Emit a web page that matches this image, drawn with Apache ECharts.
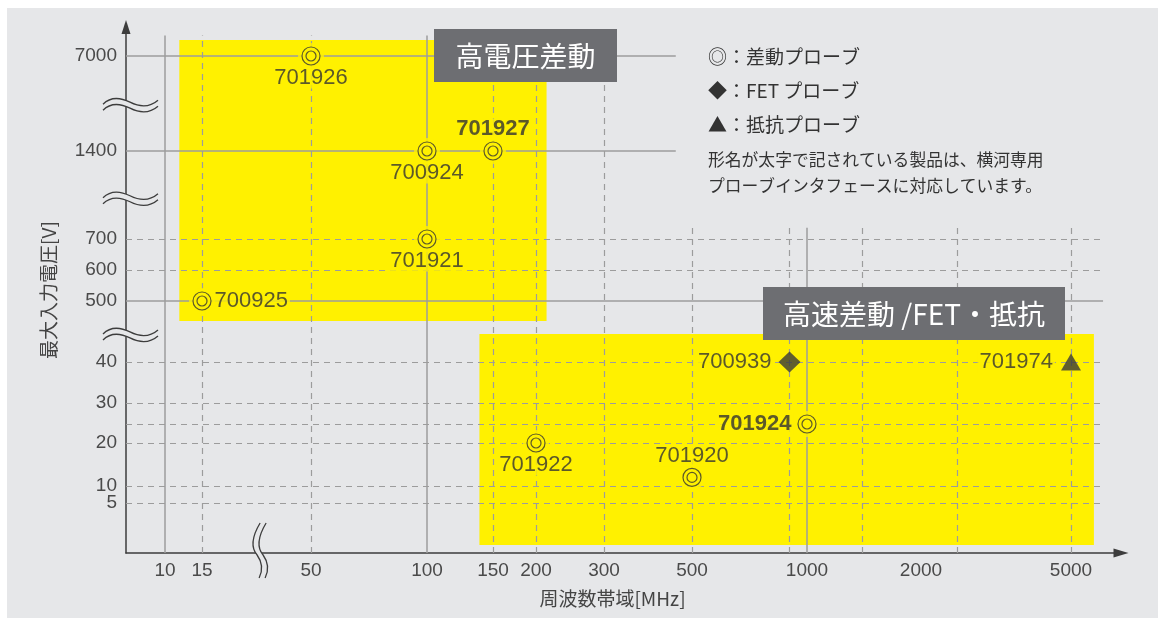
<!DOCTYPE html>
<html>
<head>
<meta charset="utf-8">
<script src="https://cdn.jsdelivr.net/npm/echarts@6/dist/echarts.min.js"></script>
<style>
html,body{margin:0;padding:0;background:#ffffff;}
#bg{position:absolute;left:7px;top:8px;right:0;bottom:0;width:1151px;height:610px;background:#E6E7E9;}
#c{position:absolute;left:0;top:0;width:1158px;height:618px;}
</style>
</head>
<body>
<div id="bg"></div>
<div id="c"></div>
<script>
// ---------------- data ----------------
const diffNames = ['701926', '700924', '701927', '701921', '700925', '701922', '701920', '701924'];
const diffFreq  = [50, 100, 150, 100, 15, 200, 500, 1000];      // MHz
const diffVolt  = [7000, 1400, 1400, 700, 500, 20, 12, 25];      // V
const diffLabelPlace = ['bottom', 'bottom', 'top', 'bottom', 'right', 'bottom', 'top', 'left'];
const fetNames = ['700939'];
const fetFreq  = [900];
const fetVolt  = [40];
const resNames = ['701974'];
const resFreq  = [5000];
const resVolt  = [40];
const boldNames = ['701927', '701924'];

const xTicks = [10, 15, 50, 100, 150, 200, 300, 500, 1000, 2000, 5000];
const yTicks = [5, 10, 20, 30, 40, 500, 600, 700, 1400, 7000];

// reference lines
const vSolidUpper  = [10, 100];
const vDashedUpper = [15, 50, 150, 200, 300];
const vSolidLower  = [1000];
const vDashedLower = [500, 900, 1400, 2500, 5000];
const hSolidUpper  = [7000, 1400];
const hSolidLower  = [500];
const hDashedLower = [700, 600, 40, 30, 25, 20, 10, 5];

// highlighted zones [fMin, vMin, fMax, vMax]
const zoneHighVoltage = [11.7, 349, 213, 7933];
const zoneHighSpeed   = [138, 0.8, 5750, 251];

// axis break locations
const yBreaks = [244, 1020, 4100];
const xBreaks = [28.5];

// ---------------- broken-axis scale ----------------
const X_ANCHOR_VAL = [6.5, 10, 15, 50, 100, 150, 200, 300, 500, 1000, 2000, 5000, 7080];
const X_ANCHOR_POS = [0, 39, 76, 185, 301, 367, 410, 478, 566, 681, 795, 945, 1002];
const Y_ANCHOR_VAL = [0, 5, 10, 20, 25, 30, 40, 500, 600, 700, 1400, 7000, 9100];
const Y_ANCHOR_POS = [0, 50, 67, 110, 129, 150, 191, 252, 283, 314, 402, 497, 533];
function pw(vals, poss, v, lg) {
  const f = lg ? Math.log10 : (a => a);
  let i = 0;
  while (i < vals.length - 2 && v > vals[i + 1]) i++;
  const t = (f(v) - f(vals[i])) / (f(vals[i + 1]) - f(vals[i]));
  return poss[i] + t * (poss[i + 1] - poss[i]);
}
const fx = v => pw(X_ANCHOR_VAL, X_ANCHOR_POS, v, true);
const fy = v => pw(Y_ANCHOR_VAL, Y_ANCHOR_POS, v, false);
const X_MIN = 6.5, V_TOP = 8200, V_LOWTOP = 790, F_UPRIGHT = 455, F_RIGHT = 6080;

const YELLOW = '#FFF100', BG = '#E6E7E9', INK = '#333333', GRID = '#9c9c9c', AXIS = '#3d3d3d';
const NUMFONT = '"Liberation Sans", Arial, sans-serif';
const JPFONT = '"Noto Sans CJK JP", sans-serif';

function tickFormatter(ticks, f) {
  return v => {
    for (const t of ticks) if (Math.abs(f(t) - v) < 0.01) return String(t);
    return '';
  };
}

const solidLines = [];
vSolidUpper.forEach(x => solidLines.push({coords: [[fx(x), fy(0)], [fx(x), fy(V_TOP)]]}));
vSolidLower.forEach(x => solidLines.push({coords: [[fx(x), fy(0)], [fx(x), fy(V_LOWTOP)]]}));
hSolidUpper.forEach(y => solidLines.push({coords: [[fx(X_MIN), fy(y)], [fx(F_UPRIGHT), fy(y)]]}));
hSolidLower.forEach(y => solidLines.push({coords: [[fx(X_MIN), fy(y)], [fx(F_RIGHT), fy(y)]]}));
const dashedLines = [];
vDashedUpper.forEach(x => dashedLines.push({coords: [[fx(x), fy(0)], [fx(x), fy(V_TOP)]]}));
vDashedLower.forEach(x => dashedLines.push({coords: [[fx(x), fy(0)], [fx(x), fy(V_LOWTOP)]]}));
hDashedLower.forEach(y => dashedLines.push({coords: [[fx(X_MIN), fy(y)], [fx(F_RIGHT), fy(y)]]}));

const zones = [zoneHighVoltage, zoneHighSpeed].map(z => [fx(z[0]), fy(z[1]), fx(z[2]), fy(z[3])]);

function labelFor(name, place) {
  const bold = boldNames.indexOf(name) >= 0;
  return {
    show: true, position: place, formatter: '{b}',
    distance: place === 'left' ? 4 : 1,
    fontSize: 22, fontFamily: NUMFONT, color: INK,
    fontWeight: bold ? 'bold' : 'normal',
    backgroundColor: YELLOW, padding: [0, 2, 0, 2]
  };
}
const diffData = diffNames.map((n, i) => ({name: n, value: [fx(diffFreq[i]), fy(diffVolt[i])], label: labelFor(n, diffLabelPlace[i])}));
const diffPlain = diffNames.map((n, i) => ({name: n, value: [fx(diffFreq[i]), fy(diffVolt[i])]}));
const fetData = fetNames.map((n, i) => ({name: n, value: [fx(fetFreq[i]), fy(fetVolt[i])], label: Object.assign(labelFor(n, 'left'), {distance: 5})}));
const resData = resNames.map((n, i) => ({name: n, value: [fx(resFreq[i]), fy(resVolt[i])], label: Object.assign(labelFor(n, 'left'), {distance: 6})}));

const breakData = yBreaks.map(v => [fx(X_MIN), fy(v), 0]).concat(xBreaks.map(v => [fx(v), fy(0), 1]));

const chart = echarts.init(document.getElementById('c'));
chart.setOption({
  animation: false,
  grid: {left: 126, top: 27, width: 995, height: 526, containLabel: false},
  xAxis: {
    type: 'value', min: 0, max: 995,
    axisLine: {show: true, symbol: ['none', 'triangle'], symbolSize: [9, 15], lineStyle: {color: AXIS, width: 1.5}},
    axisTick: {show: false}, splitLine: {show: false},
    axisLabel: {customValues: xTicks.map(fx), formatter: tickFormatter(xTicks, fx), interval: 0, hideOverlap: false, showMinLabel: true, showMaxLabel: true, fontSize: 19, fontFamily: NUMFONT, color: '#4a4a4a', margin: 8},
    name: '周波数帯域[MHz]', nameLocation: 'middle', nameGap: 36,
    nameTextStyle: {fontSize: 19, fontFamily: JPFONT, color: '#444', padding: [0, 22, 0, 0]}
  },
  yAxis: {
    type: 'value', min: 0, max: 526,
    axisLine: {show: true, symbol: ['none', 'triangle'], symbolSize: [9, 14], lineStyle: {color: AXIS, width: 1.5}},
    axisTick: {show: false}, splitLine: {show: false},
    axisLabel: {customValues: [fy(0)].concat(yTicks.map(fy)), formatter: tickFormatter(yTicks, fy), interval: 0, hideOverlap: false, fontSize: 19, lineHeight: 14, fontFamily: NUMFONT, color: '#4a4a4a', margin: 9},
    name: '最大入力電圧[V]', nameLocation: 'middle', nameGap: 68, nameRotate: 90,
    nameTextStyle: {fontSize: 19, fontFamily: JPFONT, color: '#444'}
  },
  series: [
    {
      type: 'custom', z: 1, silent: true, clip: false,
      data: zones,
      renderItem: (params, api) => {
        const p1 = api.coord([api.value(0), api.value(1)]);
        const p2 = api.coord([api.value(2), api.value(3)]);
        return {type: 'rect', shape: {x: Math.min(p1[0], p2[0]), y: Math.min(p1[1], p2[1]), width: Math.abs(p2[0] - p1[0]), height: Math.abs(p2[1] - p1[1])}, style: {fill: YELLOW}};
      }
    },
    {
      type: 'lines', coordinateSystem: 'cartesian2d', z: 2, silent: true, polyline: false,
      data: dashedLines,
      lineStyle: {color: GRID, width: 1.2, type: [6, 5], opacity: 1, curveness: 0}
    },
    {
      type: 'lines', coordinateSystem: 'cartesian2d', z: 2, silent: true, polyline: false,
      data: solidLines,
      lineStyle: {color: GRID, width: 1.5, type: 'solid', opacity: 1, curveness: 0}
    },
    {
      type: 'scatter', z: 3, silent: true, symbol: 'circle', symbolSize: 26,
      data: diffPlain, itemStyle: {color: YELLOW}
    },
    {
      type: 'scatter', z: 4, silent: true, symbol: 'circle', symbolSize: 18,
      data: diffData, itemStyle: {color: YELLOW, borderColor: INK, borderWidth: 1.2}
    },
    {
      type: 'scatter', z: 5, silent: true, symbol: 'circle', symbolSize: 10,
      data: diffPlain, itemStyle: {color: YELLOW, borderColor: INK, borderWidth: 1.2}
    },
    {
      type: 'scatter', z: 5, silent: true, symbol: 'diamond', symbolSize: [22, 21],
      data: fetData, itemStyle: {color: '#3a3a3a'}
    },
    {
      type: 'scatter', z: 5, silent: true, symbol: 'triangle', symbolSize: [20, 17],
      data: resData, itemStyle: {color: '#3a3a3a'}
    },
    {
      type: 'custom', z: 10, silent: true, clip: false,
      data: breakData,
      renderItem: (params, api) => {
        const p = api.coord([api.value(0), api.value(1)]);
        const kind = api.value(2);
        const st = {stroke: AXIS, lineWidth: 1.3, fill: null};
        if (kind === 0) {
          const w1 = 'M -23 2 C -16 -5 -6 -5 4 0 C 14 5 24 5 32 -2';
          const w2 = 'M -23 8 C -16 1 -6 1 4 6 C 14 11 24 11 32 4';
          const fillP = 'M -23 2 C -16 -5 -6 -5 4 0 C 14 5 24 5 32 -2 L 32 4 C 24 11 14 11 4 6 C -6 1 -16 1 -23 8 Z';
          return {type: 'group', x: p[0], y: p[1] - 3, children: [
            {type: 'path', shape: {pathData: fillP}, style: {fill: BG}},
            {type: 'path', shape: {pathData: w1}, style: st},
            {type: 'path', shape: {pathData: w2}, style: st}
          ]};
        } else {
          const w1 = 'M 3 -30 C -6 -15 -6 -5 0 2 C 5 9 6 17 2 25';
          const w2 = 'M 9 -30 C 0 -15 0 -5 6 2 C 11 9 12 17 8 25';
          const fillP = 'M 3 -30 C -6 -15 -6 -5 0 2 C 5 9 6 17 2 25 L 8 25 C 12 17 11 9 6 2 C 0 -5 0 -15 9 -30 Z';
          return {type: 'group', x: p[0] - 3, y: p[1], children: [
            {type: 'path', shape: {pathData: fillP}, style: {fill: BG}},
            {type: 'path', shape: {pathData: w1}, style: st},
            {type: 'path', shape: {pathData: w2}, style: st}
          ]};
        }
      }
    }
  ],
  graphic: [
    {type: 'rect', z: 100, shape: {x: 434, y: 29, width: 183, height: 53}, style: {fill: '#6D6E72'}},
    {type: 'text', z: 101, x: 525.5, y: 56, style: {text: '高電圧差動', fill: '#ffffff', fontSize: 28, fontFamily: JPFONT, align: 'center', verticalAlign: 'middle'}},
    {type: 'rect', z: 100, shape: {x: 763, y: 287, width: 302, height: 53}, style: {fill: '#6D6E72'}},
    {type: 'text', z: 101, x: 914, y: 314, style: {text: '高速差動 /FET・抵抗', fill: '#ffffff', fontSize: 28, fontFamily: JPFONT, align: 'center', verticalAlign: 'middle'}},
    {type: 'text', z: 100, x: 708, y: 57, style: {text: '◎：差動プローブ', fill: INK, fontSize: 19, fontFamily: JPFONT, align: 'left', verticalAlign: 'middle'}},
    {type: 'text', z: 100, x: 708, y: 91, style: {text: '◆：FET プローブ', fill: INK, fontSize: 19, fontFamily: JPFONT, align: 'left', verticalAlign: 'middle'}},
    {type: 'text', z: 100, x: 708, y: 125, style: {text: '▲：抵抗プローブ', fill: INK, fontSize: 19, fontFamily: JPFONT, align: 'left', verticalAlign: 'middle'}},
    {type: 'text', z: 100, x: 708, y: 160, style: {text: '形名が太字で記されている製品は、横河専用', fill: INK, fontSize: 16.8, fontFamily: JPFONT, align: 'left', verticalAlign: 'middle'}},
    {type: 'text', z: 100, x: 708, y: 186, style: {text: 'プローブインタフェースに対応しています。', fill: INK, fontSize: 16.8, fontFamily: JPFONT, align: 'left', verticalAlign: 'middle'}}
  ]
});
</script>
</body>
</html>
